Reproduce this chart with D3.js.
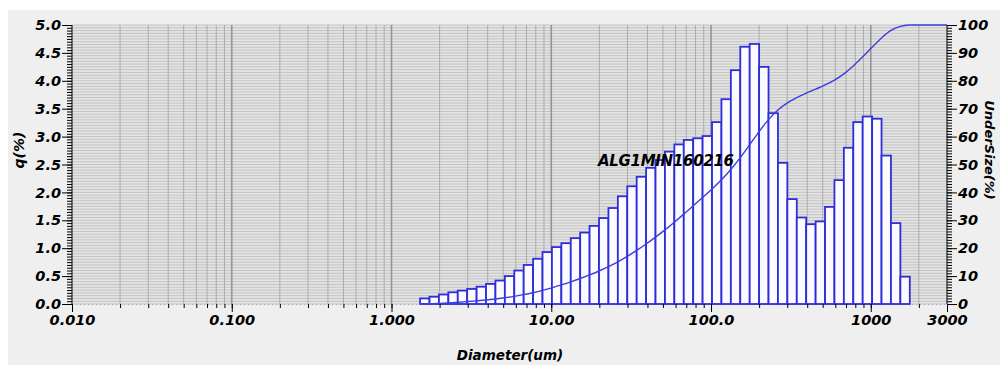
<!DOCTYPE html>
<head>
<meta charset="utf-8">
<title>ALG1MIN160216</title>
<style>
body { margin: 0; background: #fff; }
svg { display: block; }
.axis text, .lbl {
  font-family: "DejaVu Sans", sans-serif;
  font-weight: bold;
  font-style: italic;
  fill: #000;
}
.axis path { display: none; }
.axis line { stroke: #000; }
</style>
</head>
<body>
<svg id="chart" width="1000" height="365"></svg>
<script src="https://d3js.org/d3.v7.min.js"></script>
<script>

var sampleName = "ALG1MIN160216";

// bin edges in um (upper/lower limits of each channel)
var binEdges = [1.510, 1.729, 1.981, 2.269, 2.599, 2.976, 3.409, 3.905, 4.472, 5.122,
  5.867, 6.720, 7.697, 8.816, 10.097, 11.565, 13.246, 15.172, 17.377, 19.904,
  22.797, 26.111, 29.907, 34.255, 39.234, 44.938, 51.471, 58.953, 67.523, 77.339,
  88.583, 101.46, 116.21, 133.10, 152.45, 174.61, 200.00, 229.08, 262.37, 300.52,
  344.21, 394.25, 451.56, 517.20, 592.39, 678.50, 777.14, 890.11, 1019.5, 1167.7,
  1337.5, 1531.9, 1754.6];

// q(%) per channel
var qValues = [0.10, 0.13, 0.17, 0.21, 0.24, 0.27, 0.31, 0.36, 0.42, 0.50,
  0.60, 0.70, 0.81, 0.93, 1.02, 1.09, 1.18, 1.28, 1.40, 1.54,
  1.72, 1.93, 2.11, 2.28, 2.44, 2.58, 2.73, 2.86, 2.94, 2.97,
  3.01, 3.26, 3.67, 4.19, 4.61, 4.66, 4.25, 3.42, 2.53, 1.88,
  1.55, 1.43, 1.48, 1.74, 2.22, 2.80, 3.26, 3.36, 3.32, 2.66,
  1.45, 0.49];

// undersize(%) at each bin edge
var undersize = [0, 0.10, 0.23, 0.40, 0.62, 0.86, 1.13, 1.44, 1.81, 2.23,
  2.74, 3.34, 4.05, 4.87, 5.80, 6.83, 7.93, 9.13, 10.42, 11.83,
  13.39, 15.12, 17.07, 19.20, 21.50, 23.97, 26.57, 29.33, 32.21, 35.18,
  38.18, 41.22, 44.51, 48.21, 52.44, 57.10, 61.80, 66.09, 69.54, 72.10,
  74.00, 75.56, 77.00, 78.50, 80.25, 82.49, 85.32, 88.61, 92.00, 95.36,
  98.04, 99.50, 100];

var xTickValues = [0.01, 0.1, 1, 10, 100, 1000, 3000];
var xTickLabels = ["0.010", "0.100", "1.000", "10.00", "100.0", "1000", "3000"];
var qTicks = [0, 0.5, 1, 1.5, 2, 2.5, 3, 3.5, 4, 4.5, 5];
var uTicks = [0, 10, 20, 30, 40, 50, 60, 70, 80, 90, 100];

var svg = d3.select("#chart");
var plotLeft = 72, plotRight = 947, plotTop = 25, plotBottom = 304;

var x = d3.scaleLog().domain([0.01, 3000]).range([plotLeft, plotRight]);
var y = d3.scaleLinear().domain([0, 5]).range([plotBottom, plotTop]);
var y2 = d3.scaleLinear().domain([0, 100]).range([plotBottom, plotTop]);

// grey panel
svg.append("rect").attr("x", 8).attr("y", 10).attr("width", 992).attr("height", 355).attr("fill", "#efefef");
svg.append("rect").attr("x", plotLeft).attr("y", plotTop)
  .attr("width", plotRight - plotLeft).attr("height", plotBottom - plotTop)
  .attr("fill", "#e4e4e4");

// horizontal grid (every minor tick)
var yMinor = d3.range(0, 101).map(function(i) { return i * 0.05; });
svg.append("g").selectAll("line").data(yMinor).join("line")
  .attr("x1", plotLeft).attr("x2", plotRight)
  .attr("y1", function(d) { return y(d); }).attr("y2", function(d) { return y(d); })
  .attr("stroke", "#c3c3c3").attr("stroke-width", 1);

// vertical grid
var xAll = x.ticks().filter(function(d) { return d > 0.01 && d < 3000; });
svg.append("g").selectAll("line").data(xAll).join("line")
  .attr("x1", function(d) { return x(d); }).attr("x2", function(d) { return x(d); })
  .attr("y1", plotTop).attr("y2", plotBottom)
  .attr("stroke", function(d) { return xTickValues.indexOf(d) >= 0 ? "#959595" : "#acacac"; })
  .attr("stroke-width", function(d) { return xTickValues.indexOf(d) >= 0 ? 1.6 : 1; });

// dotted baseline
svg.append("line").attr("x1", plotLeft).attr("x2", plotRight)
  .attr("y1", plotBottom + 0.5).attr("y2", plotBottom + 0.5)
  .attr("stroke", "#a8a8c8").attr("stroke-dasharray", "1,3");

// bars
svg.append("g").selectAll("rect").data(qValues).join("rect")
  .attr("x", function(d, i) { return x(binEdges[i]); })
  .attr("width", function(d, i) { return x(binEdges[i + 1]) - x(binEdges[i]); })
  .attr("y", function(d) { return y(d); })
  .attr("height", function(d) { return y(0) - y(d); })
  .attr("fill", "#fbfbff")
  .attr("stroke", "#2e2ed8")
  .attr("stroke-width", 1.8);

// cumulative curve
var line = d3.line()
  .x(function(d, i) { return x(binEdges[i]); })
  .y(function(d) { return y2(d); })
  .curve(d3.curveMonotoneX);
svg.append("path").datum(undersize).attr("d", line)
  .attr("fill", "none").attr("stroke", "#3c3ce0").attr("stroke-width", 1.4);
svg.append("line")
  .attr("x1", x(binEdges[binEdges.length - 1])).attr("x2", plotRight)
  .attr("y1", y2(undersize[undersize.length - 1])).attr("y2", y2(undersize[undersize.length - 1]))
  .attr("stroke", "#3c3ce0").attr("stroke-width", 1.4);

// sample label
svg.append("text").attr("class", "lbl")
  .attr("x", 598).attr("y", 166)
  .style("font-size", "15px").style("letter-spacing", "-0.3px")
  .text(sampleName);

// left axis
svg.append("g").attr("class", "axis").attr("transform", "translate(" + plotLeft + ",0)")
  .call(d3.axisLeft(y).tickValues(yMinor).tickSize(5).tickFormat(""));
svg.append("g").attr("class", "axis").attr("transform", "translate(" + plotLeft + ",0)")
  .call(d3.axisLeft(y).tickValues(qTicks).tickSize(10).tickPadding(1).tickFormat(d3.format(".1f")))
  .selectAll("text").style("font-size", "14.5px");
svg.append("line").attr("x1", plotLeft).attr("x2", plotLeft)
  .attr("y1", plotTop).attr("y2", plotBottom).attr("stroke", "#000");

// right axis
svg.append("g").attr("class", "axis").attr("transform", "translate(" + plotRight + ",0)")
  .call(d3.axisRight(y2).tickValues(d3.range(0, 101)).tickSize(5).tickFormat(""));
svg.append("g").attr("class", "axis").attr("transform", "translate(" + plotRight + ",0)")
  .call(d3.axisRight(y2).tickValues(uTicks).tickSize(10).tickPadding(1))
  .selectAll("text").style("font-size", "14.5px");
svg.append("line").attr("x1", plotRight).attr("x2", plotRight)
  .attr("y1", plotTop).attr("y2", plotBottom).attr("stroke", "#000");

// bottom axis
svg.append("g").attr("class", "axis").attr("transform", "translate(0," + plotBottom + ")")
  .call(d3.axisBottom(x).tickValues(xAll).tickSize(4).tickFormat(""));
svg.append("g").attr("class", "axis").attr("transform", "translate(0," + plotBottom + ")")
  .call(d3.axisBottom(x).tickValues(xTickValues).tickSize(8).tickPadding(3)
    .tickFormat(function(d, i) { return xTickLabels[i]; }))
  .selectAll("text").style("font-size", "14.5px");

// axis titles
svg.append("text").attr("class", "lbl")
  .attr("transform", "translate(24,150) rotate(-90)")
  .attr("text-anchor", "middle").style("font-size", "14px")
  .text("q(%)");
svg.append("text").attr("class", "lbl")
  .attr("transform", "translate(985,150) rotate(90)")
  .attr("text-anchor", "middle").style("font-size", "13px")
  .text("UnderSize(%)");
svg.append("text").attr("class", "lbl")
  .attr("x", 510).attr("y", 360)
  .attr("text-anchor", "middle").style("font-size", "13.5px")
  .text("Diameter(um)");

</script>
</body>
